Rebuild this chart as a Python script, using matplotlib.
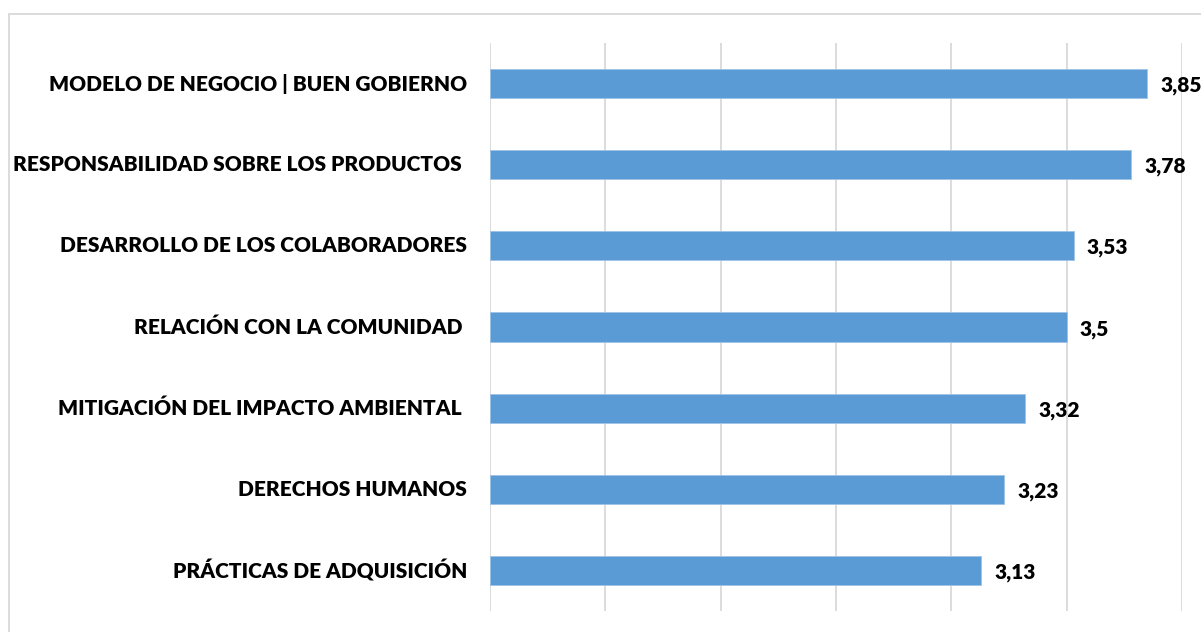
import matplotlib
matplotlib.use("Agg")
import matplotlib.pyplot as plt
from matplotlib.patches import Rectangle

categories = [
    "MODELO DE NEGOCIO | BUEN GOBIERNO",
    "RESPONSABILIDAD SOBRE LOS PRODUCTOS ",
    "DESARROLLO DE LOS COLABORADORES",
    "RELACIÓN CON LA COMUNIDAD ",
    "MITIGACIÓN DEL IMPACTO AMBIENTAL ",
    "DERECHOS HUMANOS",
    "PRÁCTICAS DE ADQUISICIÓN",
]
values = [3.85, 3.78, 3.53, 3.5, 3.32, 3.23, 3.13]
value_labels = ["3,85", "3,78", "3,53", "3,5", "3,32", "3,23", "3,13"]

W, H = 1201, 632
fig = plt.figure(figsize=(W / 100, H / 100), dpi=100)
fig.patch.set_facecolor("white")

# outer chart border (right and bottom edges lie outside the image)
fig.patches.append(Rectangle((9 / W, -0.2), 1300 / W, 1.2 - 14 / H,
                             transform=fig.transFigure, fill=False,
                             edgecolor="#D9D9D9", linewidth=1.3))

ax = fig.add_axes([490 / W, 1 - 611 / H, (1182 - 490) / W, (611 - 43) / H])
n = len(categories)
ypos = list(range(n))
ax.barh(ypos, [v - 1 for v in values], left=1, height=0.36,
        color="#5B9BD5", edgecolor="#9DC3E6", linewidth=0.6, zorder=3)
ax.set_xlim(1, 4)
ax.set_ylim(n - 0.5, -0.5)
ax.set_xticks([1, 1.5, 2, 2.5, 3, 3.5, 4])
ax.set_xticklabels([])
ax.tick_params(axis="both", length=0)
ax.grid(axis="x", color="#D9D9D9", linewidth=1.3, zorder=0)
for s in ax.spines.values():
    s.set_visible(False)
ax.set_yticks(ypos)
ax.set_yticklabels([])

font = "Lato"
for y, c in zip(ypos, categories):
    ax.annotate(c, xy=(1, y), xytext=(-23, 0), textcoords="offset pixels",
                ha="right", va="center", fontsize=15, fontweight="heavy",
                family=font, color="black", annotation_clip=False)
for y, v, t in zip(ypos, values, value_labels):
    ax.annotate(t, xy=(v, y), xytext=(13, -2), textcoords="offset pixels",
                ha="left", va="center", fontsize=15, fontweight="heavy",
                family=font, color="black", annotation_clip=False)

fig.savefig("out.png", dpi=100)
